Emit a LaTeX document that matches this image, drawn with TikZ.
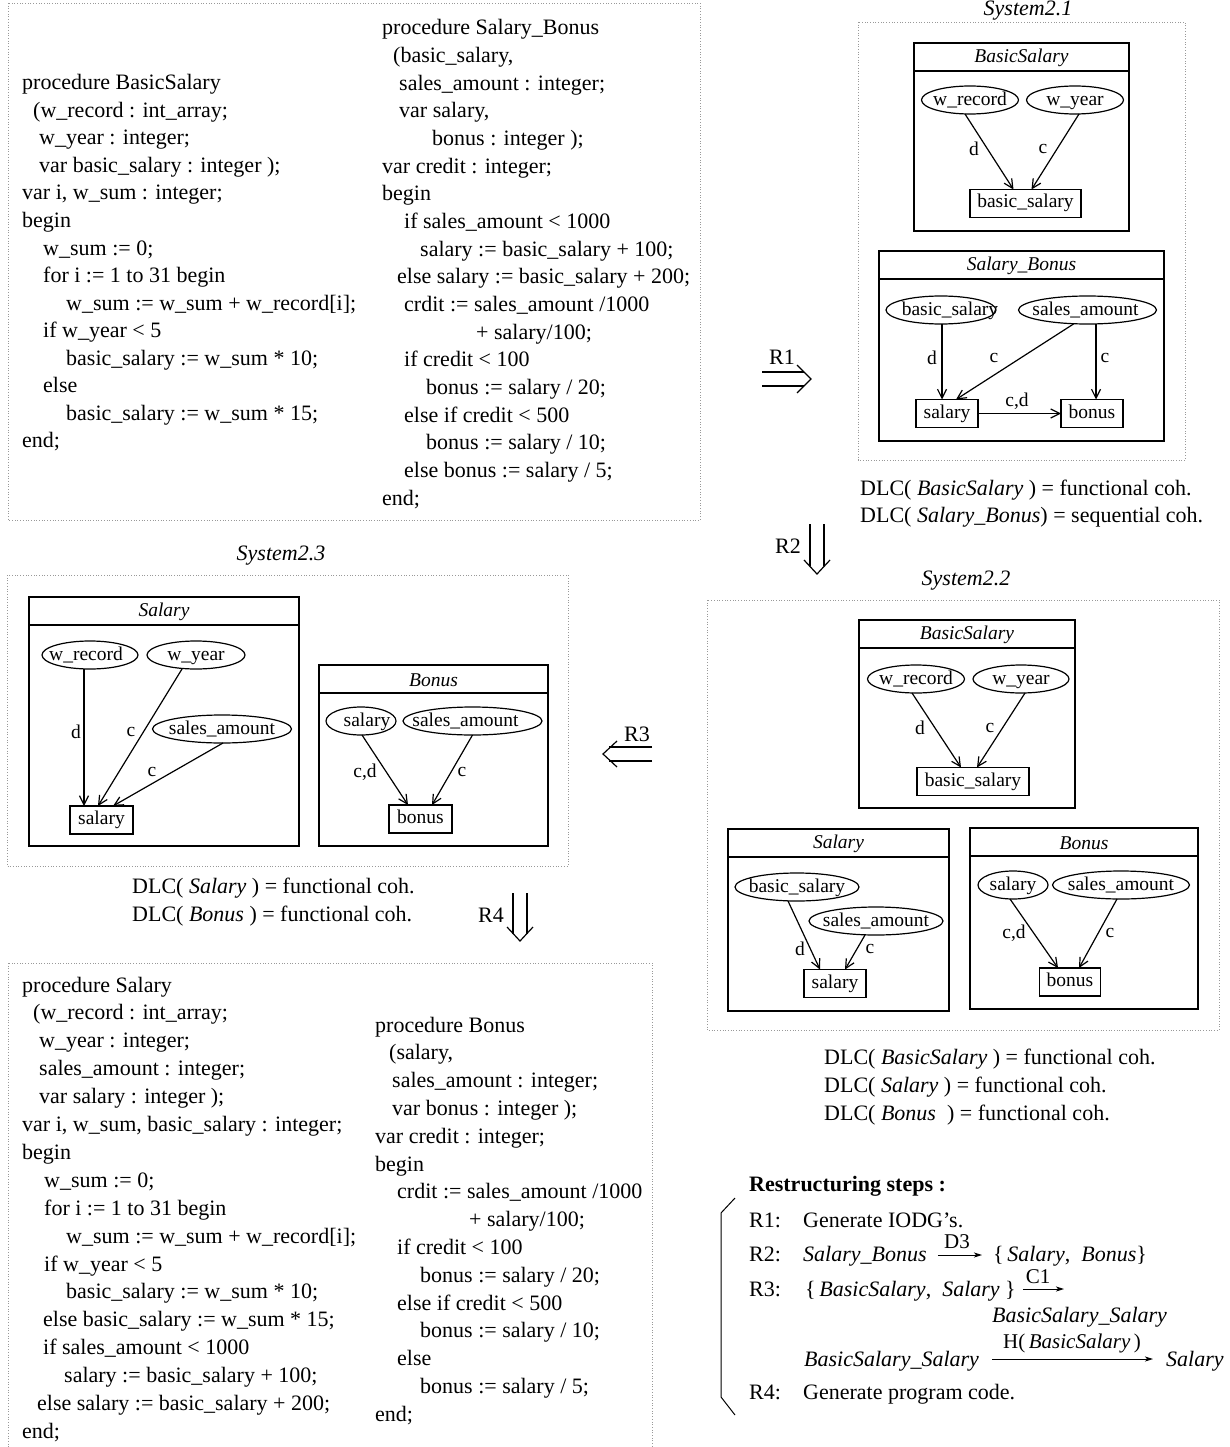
\documentclass[tikz,border=0pt]{standalone}
\usepackage{fontspec}
\setmainfont{Liberation Serif}
\usetikzlibrary{shapes.geometric,arrows.meta}
\newcommand\elltxt[2][0pt]{\makebox[0pt]{\hspace*{#1}\raisebox{-5.5pt}[0pt][0pt]{#2}}}
\tikzset{
  code/.style={anchor=base west, inner sep=0pt, font=\fontsize{22}{26}\selectfont},
  big/.style={anchor=base west, inner sep=0pt, font=\fontsize{22}{26}\selectfont},
  systl/.style={anchor=base, inner sep=0pt, font=\fontsize{22}{26}\selectfont\itshape},
  ell/.style={draw, ellipse, inner sep=0pt, outer sep=0pt, minimum height=28pt, line width=1.2pt, font=\fontsize{19.5}{23}\selectfont},
  rbox/.style={draw, rectangle, inner sep=0pt, outer sep=0pt, minimum height=28pt, text height=13.5pt, text depth=4.5pt, line width=1.2pt, font=\fontsize{19.5}{23}\selectfont},
  modbox/.style={draw, rectangle, inner sep=0pt, outer sep=0pt, line width=1.5pt, anchor=north west},
  ttl/.style={inner sep=0pt, font=\fontsize{19.5}{23}\selectfont\itshape},
  lab/.style={inner sep=0pt, font=\fontsize{19.5}{23}\selectfont},
  alab/.style={inner sep=0pt, font=\fontsize{21}{25}\selectfont},
  arr/.style={line width=1.2pt, -{Straight Barb[length=9pt,width=9pt,line width=1.2pt]}},
  sarr/.style={line width=1pt, -{Stealth[length=8pt,width=5pt,inset=2pt]}},
  dotframe/.style={dotted, line width=0.7pt, black!40},
  dbl/.style={line width=1.2pt},
}
\newcommand\modhead[2]{%
  \draw[line width=1.5pt] ([yshift=-28pt]#1.north west) -- ([yshift=-28pt]#1.north east);
  \node[ttl] (#1t) at ([yshift=-15pt]#1.north) {#2};}
\begin{document}
\begin{tikzpicture}[x=1pt,y=-1pt]
\useasboundingbox (0,0) rectangle (1230,1447);

% ---------- dotted frames ----------
\draw[dotframe] (8,3) rectangle (700,520);
\draw[dotframe] (858,22) rectangle (1185,460);
\draw[dotframe] (7,575) rectangle (568,866);
\draw[dotframe] (707,600) rectangle (1219,1030);
\draw[dotframe] (8,963) rectangle (652,1470);

% ---------- system titles ----------
\node[systl] (sys1) at (1028,16) {System2.1};
\node[systl] (sys3) at (281,560) {System2.3};
\node[systl] (sys2) at (966,585) {System2.2};

% ---------- code: BasicSalary ----------
\foreach \dx/\t [count=\i] in {
 0/{procedure BasicSalary},
 11/{(w\_record : int\_array;},
 17/{w\_year : integer;},
 17/{var basic\_salary : integer );},
 0/{var i, w\_sum : integer;},
 0/{begin},
 21/{w\_sum := 0;},
 21/{for i := 1 to 31 begin},
 44/{w\_sum := w\_sum + w\_record[i];},
 21/{if w\_year < 5},
 44/{basic\_salary := w\_sum * 10;},
 21/{else},
 44/{basic\_salary := w\_sum * 15;},
 0/{end;}}
 \node[code] (pa\i) at ({22+\dx},{90+27.5*(\i-1)}) {\t};

% ---------- code: Salary_Bonus ----------
\foreach \dx/\t [count=\i] in {
 0/{procedure Salary\_Bonus},
 11/{(basic\_salary,},
 17/{sales\_amount : integer;},
 17/{var salary,},
 50/{bonus : integer );},
 0/{var credit : integer;},
 0/{begin},
 22/{if sales\_amount < 1000},
 38/{salary := basic\_salary + 100;},
 15/{else salary := basic\_salary + 200;},
 22/{crdit := sales\_amount /1000},
 94/{+ salary/100;},
 22/{if credit < 100},
 44/{bonus := salary / 20;},
 22/{else if credit < 500},
 44/{bonus := salary / 10;},
 22/{else bonus := salary / 5;},
 0/{end;}}
 \node[code] (pb\i) at ({382+\dx},{35+27.65*(\i-1)}) {\t};

% ---------- code: Salary ----------
\foreach \dx/\t [count=\i] in {
 0/{procedure Salary},
 11/{(w\_record : int\_array;},
 17/{w\_year : integer;},
 17/{sales\_amount : integer;},
 17/{var salary : integer );},
 0/{var i, w\_sum, basic\_salary : integer;},
 0/{begin},
 22/{w\_sum := 0;},
 22/{for i := 1 to 31 begin},
 44/{w\_sum := w\_sum + w\_record[i];},
 22/{if w\_year < 5},
 44/{basic\_salary := w\_sum * 10;},
 21/{else basic\_salary := w\_sum * 15;},
 21/{if sales\_amount < 1000},
 42/{salary := basic\_salary + 100;},
 15/{else salary := basic\_salary + 200;},
 0/{end;}}
 \node[code] (pc\i) at ({22+\dx},{992+27.9*(\i-1)}) {\t};

% ---------- code: Bonus ----------
\foreach \dx/\t [count=\i] in {
 0/{procedure Bonus},
 14/{(salary,},
 17/{sales\_amount : integer;},
 17/{var bonus : integer );},
 0/{var credit : integer;},
 0/{begin},
 22/{crdit := sales\_amount /1000},
 94/{+ salary/100;},
 22/{if credit < 100},
 45/{bonus := salary / 20;},
 22/{else if credit < 500},
 45/{bonus := salary / 10;},
 22/{else},
 45/{bonus := salary / 5;},
 0/{end;}}
 \node[code] (pd\i) at ({375+\dx},{1032+27.8*(\i-1)}) {\t};

% ---------- System2.1 : BasicSalary ----------
\node[modbox, minimum width=215pt, minimum height=188pt] (B1) at (914,43) {};
\modhead{B1}{BasicSalary}
\node[ell, minimum width=97pt] (e11) at (970,100) {\elltxt{w\_record}};
\node[ell, minimum width=97pt] (e12) at (1075,100) {\elltxt{w\_year}};
\node[rbox, minimum width=111pt] (r11) at (1025.5,203.5) {basic\_salary};
\draw[arr] ([xshift=-5pt]e11.south) -- ([xshift=-12pt]r11.north);
\draw[arr] ([xshift=4pt]e12.south) -- ([xshift=6pt]r11.north);
\node[lab] (l11) at (974,149) {d};
\node[lab] (l12) at (1043,149) {c};

% ---------- System2.1 : Salary_Bonus ----------
\node[modbox, minimum width=285pt, minimum height=190pt] (B2) at (879,251) {};
\modhead{B2}{Salary\_Bonus}
\node[ell, minimum width=110pt] (e21) at (941,310) {\elltxt[18pt]{basic\_salary}};
\node[ell, minimum width=138pt] (e22) at (1087.5,310) {\elltxt[-4pt]{sales\_amount}};
\node[rbox, minimum width=62pt] (r21) at (947,413.5) {salary};
\node[rbox, minimum width=62pt] (r22) at (1092,413.5) {bonus};
\draw[arr] ([xshift=1pt]e21.south) -- ([xshift=-5pt]r21.north);
\draw[arr] ([xshift=-14pt]e22.south) -- ([xshift=9pt]r21.north);
\draw[arr] ([xshift=8.5pt]e22.south) -- ([xshift=4pt]r22.north);
\draw[arr] (r21.east) -- (r22.west);
\node[lab] (l21) at (932,358) {d};
\node[lab] (l22) at (994,358) {c};
\node[lab] (l23) at (1105,358) {c};
\node[lab] (l24) at (1017,401) {c,d};

\node[big] (dlc11) at (860,495) {DLC( \textit{BasicSalary} ) = functional coh.};
\node[big] (dlc12) at (860,522) {DLC( \textit{Salary\_Bonus}) = sequential coh.};

% ---------- System2.2 ----------
\node[modbox, minimum width=216pt, minimum height=188pt] (B3) at (859,620) {};
\modhead{B3}{BasicSalary}
\node[ell, minimum width=97pt] (e31) at (916,679) {\elltxt{w\_record}};
\node[ell, minimum width=96pt] (e32) at (1021,679) {\elltxt{w\_year}};
\node[rbox, minimum width=112pt] (r31) at (973,781.5) {basic\_salary};
\draw[arr] ([xshift=-4pt]e31.south) -- ([xshift=-12pt]r31.north);
\draw[arr] ([xshift=4pt]e32.south) -- ([xshift=4pt]r31.north);
\node[lab] (l31) at (920,728) {d};
\node[lab] (l32) at (990,728) {c};

\node[modbox, minimum width=221pt, minimum height=182pt] (B4) at (728,829) {};
\modhead{B4}{Salary}
\node[ell, minimum width=124pt] (e41) at (797,887) {\elltxt{basic\_salary}};
\node[ell, minimum width=134pt] (e42) at (876,921) {\elltxt{sales\_amount}};
\node[rbox, minimum width=62pt] (r41) at (835,983.5) {salary};
\draw[arr] ([xshift=-9pt]e41.south) -- ([xshift=-15pt]r41.north);
\draw[arr] ([xshift=-11pt]e42.south) -- ([xshift=10pt]r41.north);
\node[lab] (l41) at (800,949) {d};
\node[lab] (l42) at (870,949) {c};

\node[modbox, minimum width=228pt, minimum height=181pt] (B5) at (970,828) {};
\modhead{B5}{Bonus}
\node[ell, minimum width=70pt] (e51) at (1013,885) {\elltxt{salary}};
\node[ell, minimum width=137pt] (e52) at (1121,885) {\elltxt{sales\_amount}};
\node[rbox, minimum width=61pt] (r51) at (1070,982) {bonus};
\draw[arr] ([xshift=-3pt]e51.south) -- ([xshift=-12pt]r51.north);
\draw[arr] ([xshift=-4pt]e52.south) -- ([xshift=9pt]r51.north);
\node[lab] (l51) at (1014,933) {c,d};
\node[lab] (l52) at (1110,933) {c};

\node[big] (dlc21) at (824,1064) {DLC( \textit{BasicSalary} ) = functional coh.};
\node[big] (dlc22) at (824,1092) {DLC( \textit{Salary} ) = functional coh.};
\node[big] (dlc23) at (824,1120) {DLC( \textit{Bonus}\ \ ) = functional coh.};

% ---------- System2.3 ----------
\node[modbox, minimum width=270pt, minimum height=249pt] (B6) at (29,597) {};
\modhead{B6}{Salary}
\node[ell, minimum width=96pt] (e61) at (90,655) {\elltxt[-8pt]{w\_record}};
\node[ell, minimum width=98pt] (e62) at (196,655) {\elltxt{w\_year}};
\node[ell, minimum width=139pt] (e63) at (222,729) {\elltxt{sales\_amount}};
\node[rbox, minimum width=63pt] (r61) at (101.5,820) {salary};
\draw[arr] ([xshift=-6pt]e61.south) -- ([xshift=-17.5pt]r61.north);
\draw[arr] ([xshift=-14pt]e62.south) -- ([xshift=-3.5pt]r61.north);
\draw[arr] ([xshift=1pt]e63.south) -- ([xshift=11.5pt]r61.north);
\node[lab] (l61) at (76,732) {d};
\node[lab] (l62) at (131,732) {c};
\node[lab] (l63) at (152,772) {c};

\node[modbox, minimum width=229pt, minimum height=181pt] (B7) at (319,665) {};
\modhead{B7}{Bonus}
\node[ell, minimum width=70pt] (e71) at (361,721) {\elltxt[12pt]{salary}};
\node[ell, minimum width=139pt] (e72) at (472.5,721) {\elltxt[-14pt]{sales\_amount}};
\node[rbox, minimum width=63pt] (r71) at (420.5,819) {bonus};
\draw[arr] ([xshift=1pt]e71.south) -- ([xshift=-12.5pt]r71.north);
\draw[arr] (e72.south) -- ([xshift=11.5pt]r71.north);
\node[lab] (l71) at (365,772) {c,d};
\node[lab] (l72) at (462,772) {c};

\node[big] (dlc31) at (132,893) {DLC( \textit{Salary} ) = functional coh.};
\node[big] (dlc32) at (132,921) {DLC( \textit{Bonus} ) = functional coh.};

% ---------- transition arrows ----------
\draw[dbl] (762,372) -- (804,372) (762,386) -- (804,386);
\draw[dbl] (797,365) -- (811,379) -- (797,393);
\node[systl, font=\fontsize{22}{26}\selectfont] (R1) at (782,364) {R1};

\draw[dbl] (810,524) -- (810,566) (824,524) -- (824,566);
\draw[dbl] (804,560) -- (817,574) -- (830,560);
\node[systl, font=\fontsize{22}{26}\selectfont] (R2) at (788,553) {R2};

\draw[dbl] (652,747) -- (609,747) (652,761) -- (609,761);
\draw[dbl] (617,741) -- (603,754) -- (617,767);
\node[systl, font=\fontsize{22}{26}\selectfont] (R3) at (637,741) {R3};

\draw[dbl] (513,893) -- (513,934) (527,893) -- (527,934);
\draw[dbl] (507,927) -- (520,941) -- (533,927);
\node[systl, font=\fontsize{22}{26}\selectfont] (R4) at (491,922) {R4};

% ---------- restructuring steps ----------
\node[big, font=\fontsize{22}{26}\selectfont\bfseries] (st0) at (749,1191) {Restructuring steps :};
\draw[line width=1pt] (735,1198) -- (721,1213) -- (721,1397) -- (735,1415);

\node[big] (s1a) at (749,1227) {R1:};
\node[big] (s1b) at (803,1227) {Generate IODG's.};

\node[big] (s2a) at (749,1261) {R2:};
\node[big] (s2b) at (803,1261) {\textit{Salary\_Bonus}};
\node[big] (s2c) at (993,1261) {\{\,\textit{Salary},\ \ \textit{Bonus}\}};
\draw[sarr] ([xshift=11pt,yshift=6pt]s2b.base east) -- ([xshift=-11pt,yshift=6pt]s2c.base west);
\node[alab] (d3) at (957,1242) {D3};

\node[big] (s3a) at (749,1296) {R3:};
\node[big] (s3b) at (805,1296) {\{\,\textit{BasicSalary},\ \ \textit{Salary}\ \}};
\coordinate (c1e) at (1064,1289);
\draw[sarr] ([xshift=7pt,yshift=7pt]s3b.base east) -- (c1e);
\node[alab] (c1) at (1038,1277) {C1};
\node[big] (s3c) at (992,1322) {\textit{BasicSalary\_Salary}};

\node[big] (s3d) at (804,1366) {\textit{BasicSalary\_Salary}};
\node[big] (s3e) at (1166,1366) {\textit{Salary}};
\draw[sarr] ([xshift=13pt,yshift=7pt]s3d.base east) -- ([xshift=-13pt,yshift=7pt]s3e.base west);
\node[alab] (h1) at (1072,1343) {H(\,\textit{BasicSalary}\,)};

\node[big] (s4a) at (749,1399) {R4:};
\node[big] (s4b) at (803,1399) {Generate program code.};
\end{tikzpicture}
\end{document}
